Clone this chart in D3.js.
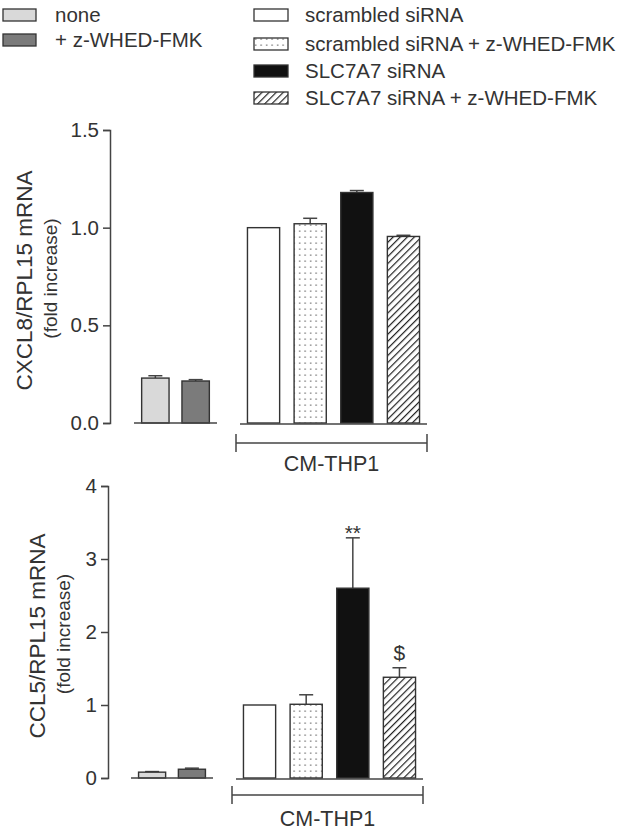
<!DOCTYPE html>
<html>
<head>
<meta charset="utf-8">
<script src="https://cdn.jsdelivr.net/npm/d3@7"></script>
<style>
  body { margin: 0; background: #fff; }
  svg text { font-family: "Liberation Sans", Arial, sans-serif; fill: #333; }
</style>
</head>
<body>
<svg id="chart" width="641" height="830"></svg>
<script>
// groups and values
const leftGroups = ["none", "+ z-WHED-FMK"];
const rightGroups = ["scrambled siRNA", "scrambled siRNA + z-WHED-FMK", "SLC7A7 siRNA", "SLC7A7 siRNA + z-WHED-FMK"];

const cxcl8Mean = [0.23, 0.215, 1.0, 1.02, 1.18, 0.955];
const cxcl8Err  = [0.012, 0.007, 0, 0.028, 0.01, 0.006];
const ccl5Mean  = [0.08, 0.12, 1.0, 1.01, 2.6, 1.38];
const ccl5Err   = [0.008, 0.015, 0, 0.13, 0.69, 0.13];
const ccl5Marks = ["", "", "", "", "**", "$"];

const cxcl8Ticks = [0, 0.5, 1.0, 1.5];
const ccl5Ticks = [0, 1, 2, 3, 4];
const groupLabel = "CM-THP1";

const fills = {
  "none": "#d9d9d9",
  "+ z-WHED-FMK": "#7b7b7b",
  "scrambled siRNA": "#fff",
  "scrambled siRNA + z-WHED-FMK": "url(#dots)",
  "SLC7A7 siRNA": "#111",
  "SLC7A7 siRNA + z-WHED-FMK": "url(#hatch)"
};

let svg = d3.select("#chart");

// patterns
let defs = svg.append("defs");
let dots = defs.append("pattern")
    .attr("id", "dots")
    .attr("patternUnits", "userSpaceOnUse")
    .attr("width", 5.5).attr("height", 6);
dots.append("rect").attr("width", 5.5).attr("height", 6).attr("fill", "#fff");
dots.append("rect").attr("x", 2).attr("y", 2.5).attr("width", 1.3).attr("height", 1.3).attr("fill", "#666");

let hatch = defs.append("pattern")
    .attr("id", "hatch")
    .attr("patternUnits", "userSpaceOnUse")
    .attr("width", 5).attr("height", 5)
    .attr("patternTransform", "rotate(45)");
hatch.append("rect").attr("width", 5).attr("height", 5).attr("fill", "#fff");
hatch.append("line").attr("x1", 0).attr("y1", 0).attr("x2", 0).attr("y2", 5)
    .attr("stroke", "#222").attr("stroke-width", 2.4);

// legend
let legLeft = svg.append("g");
leftGroups.forEach((g, i) => {
  legLeft.append("rect")
      .attr("x", 3).attr("y", [9, 34][i]).attr("width", 33).attr("height", 12)
      .attr("fill", fills[g]).attr("stroke", "#333").attr("stroke-width", 1.3);
  legLeft.append("text")
      .attr("x", 55).attr("y", [15, 40][i]).attr("dy", "0.35em")
      .style("font-size", "20.5px").text(g);
});

let legRight = svg.append("g");
let legRows = [15, 44, 71, 98];
rightGroups.forEach((g, i) => {
  legRight.append("rect")
      .attr("x", 254).attr("y", legRows[i] - 6).attr("width", 34).attr("height", 12)
      .attr("fill", fills[g]).attr("stroke", "#333").attr("stroke-width", 1.3);
  legRight.append("text")
      .attr("x", 305).attr("y", legRows[i]).attr("dy", "0.35em")
      .style("font-size", "20.5px").text(g);
});

function drawPanel(cfg) {
  let g = svg.append("g");
  let y = d3.scaleLinear().domain(cfg.domain).range([cfg.y0, cfg.y1]);

  let axis = g.append("g")
      .attr("transform", `translate(${cfg.axisX},0)`)
      .call(d3.axisLeft(y).tickValues(cfg.ticks).tickFormat(cfg.fmt).tickSize(7).tickPadding(4));
  axis.select(".domain").attr("stroke", "#444").attr("stroke-width", 1.5);
  axis.selectAll(".tick line").attr("stroke", "#444").attr("stroke-width", 1.5);
  axis.selectAll(".tick text")
      .style("font-size", "20.5px").style("font-family", "Liberation Sans, Arial, sans-serif")
      .attr("fill", "#333");

  let xL = d3.scaleBand().domain(leftGroups).range(cfg.leftRange).paddingInner(0.32).paddingOuter(0.19);
  let xR = d3.scaleBand().domain(rightGroups).range(cfg.rightRange).paddingInner(0.31).paddingOuter(0.16);

  let rows = leftGroups.map((k, i) => ({ k: k, x: xL(k), w: xL.bandwidth(), m: cfg.mean[i], e: cfg.err[i], s: cfg.marks[i] }))
    .concat(rightGroups.map((k, i) => ({ k: k, x: xR(k), w: xR.bandwidth(), m: cfg.mean[i + 2], e: cfg.err[i + 2], s: cfg.marks[i + 2] })));

  // error bars (up only)
  let eb = g.selectAll(".err").data(rows.filter(d => d.e > 0)).enter().append("g");
  eb.append("line")
      .attr("x1", d => d.x + d.w / 2).attr("x2", d => d.x + d.w / 2)
      .attr("y1", d => y(d.m)).attr("y2", d => y(d.m + d.e))
      .attr("stroke", "#444").attr("stroke-width", 1.5);
  eb.append("line")
      .attr("x1", d => d.x + d.w / 2 - 7).attr("x2", d => d.x + d.w / 2 + 7)
      .attr("y1", d => y(d.m + d.e)).attr("y2", d => y(d.m + d.e))
      .attr("stroke", "#444").attr("stroke-width", 1.5);

  g.selectAll(".bar").data(rows).enter().append("rect")
      .attr("x", d => d.x).attr("width", d => d.w)
      .attr("y", d => y(d.m)).attr("height", d => y(0) - y(d.m))
      .attr("fill", d => fills[d.k])
      .attr("stroke", "#333").attr("stroke-width", 1.4);

  // baselines
  g.append("line").attr("x1", cfg.leftRange[0]).attr("x2", cfg.leftRange[1])
      .attr("y1", y(0)).attr("y2", y(0)).attr("stroke", "#444").attr("stroke-width", 1.5);
  g.append("line").attr("x1", cfg.rightRange[0]).attr("x2", cfg.rightRange[1])
      .attr("y1", y(0) + 1).attr("y2", y(0) + 1).attr("stroke", "#444").attr("stroke-width", 1.5);

  // significance marks
  g.selectAll(".sig").data(rows.filter(d => d.s)).enter().append("text")
      .attr("x", d => d.x + d.w / 2)
      .attr("y", d => y(d.m + d.e) + (d.s === "**" ? 2 : -8))
      .style("text-anchor", "middle").style("font-size", "21px")
      .text(d => d.s);

  // group bracket
  let bx0 = cfg.rightRange[0] - 4, bx1 = cfg.rightRange[1];
  let by = y(0) + cfg.bracketGap;
  g.append("line").attr("x1", bx0).attr("x2", bx1).attr("y1", by).attr("y2", by)
      .attr("stroke", "#444").attr("stroke-width", 1.5);
  [bx0, bx1].forEach(bx => {
    g.append("line").attr("x1", bx).attr("x2", bx).attr("y1", by - 9).attr("y2", by + 9)
        .attr("stroke", "#444").attr("stroke-width", 1.5);
  });
  g.append("text")
      .attr("x", (bx0 + bx1) / 2).attr("y", by + cfg.labelGap)
      .style("text-anchor", "middle").style("font-size", "21.5px")
      .text(groupLabel);

  // y labels
  let ym = (cfg.y0 + cfg.y1) / 2;
  g.append("text")
      .attr("transform", `translate(${cfg.labelX},${ym + 4}) rotate(-90)`)
      .style("text-anchor", "middle").style("font-size", "22.5px")
      .text(cfg.title);
  g.append("text")
      .attr("transform", `translate(${cfg.labelX + 25},${ym + 2}) rotate(-90)`)
      .style("text-anchor", "middle").style("font-size", "19px")
      .text("(fold increase)");
}

drawPanel({
  domain: [0, 1.5], y0: 423, y1: 130, axisX: 110,
  ticks: cxcl8Ticks, fmt: d3.format(".1f"),
  leftRange: [134, 217], rightRange: [240, 427],
  mean: cxcl8Mean, err: cxcl8Err, marks: ["", "", "", "", "", ""],
  bracketGap: 20, labelGap: 28,
  labelX: 32, title: "CXCL8/RPL15 mRNA"
});

drawPanel({
  domain: [0, 4], y0: 778, y1: 486, axisX: 108,
  ticks: ccl5Ticks, fmt: d3.format("d"),
  leftRange: [131, 213], rightRange: [236, 423],
  mean: ccl5Mean, err: ccl5Err, marks: ccl5Marks,
  bracketGap: 17, labelGap: 31,
  labelX: 45, title: "CCL5/RPL15 mRNA"
});
</script>
</body>
</html>
